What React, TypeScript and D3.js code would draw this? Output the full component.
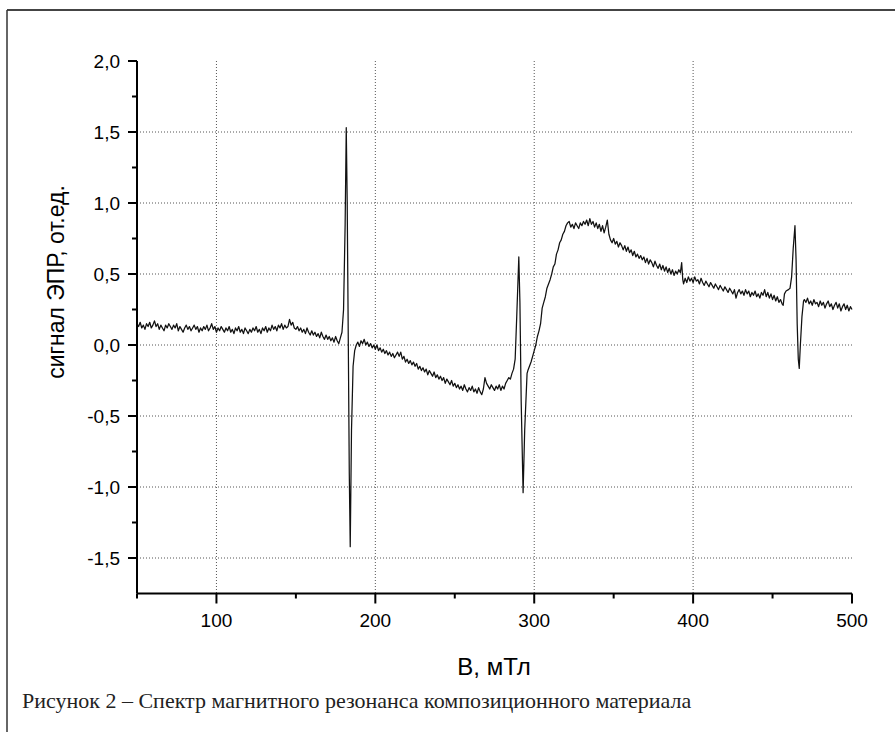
import React from "react";
import * as d3 from "d3";

type Pt = [number, number];

// B (mT), signal (a.u.), region by region
const lowFieldBaseline: Pt[] = [
  [50, 0.15], [51, 0.13], [52, 0.16], [53, 0.12], [54, 0.14], [55, 0.11], [56, 0.15], [57, 0.13], [58, 0.16], [59, 0.12],
  [60, 0.14], [61, 0.17], [62, 0.13], [63, 0.15], [64, 0.11], [65, 0.14], [66, 0.12], [67, 0.10], [68, 0.14], [69, 0.12],
  [70, 0.15], [71, 0.13], [72, 0.11], [73, 0.14], [74, 0.12], [75, 0.15], [76, 0.10], [77, 0.13], [78, 0.11], [79, 0.09],
  [80, 0.12], [81, 0.14], [82, 0.11], [83, 0.13], [84, 0.10], [85, 0.12], [86, 0.14], [87, 0.11], [88, 0.13], [89, 0.09],
  [90, 0.12], [91, 0.10], [92, 0.13], [93, 0.11], [94, 0.14], [95, 0.10], [96, 0.12], [97, 0.15], [98, 0.11], [99, 0.13],
  [100, 0.09], [101, 0.12], [102, 0.10], [103, 0.13], [104, 0.11], [105, 0.09], [106, 0.12], [107, 0.10], [108, 0.13], [109, 0.09],
  [110, 0.11], [111, 0.08], [112, 0.12], [113, 0.10], [114, 0.13], [115, 0.09], [116, 0.11], [117, 0.08], [118, 0.12], [119, 0.10],
  [120, 0.08], [121, 0.11], [122, 0.09], [123, 0.12], [124, 0.10], [125, 0.13], [126, 0.09], [127, 0.11], [128, 0.08], [129, 0.12],
  [130, 0.10], [131, 0.13], [132, 0.09], [133, 0.12], [134, 0.10], [135, 0.14], [136, 0.11], [137, 0.13], [138, 0.10], [139, 0.14],
  [140, 0.12], [141, 0.15], [142, 0.11], [143, 0.14], [144, 0.12], [145, 0.13], [146, 0.18], [147, 0.14], [148, 0.16], [149, 0.12],
  [150, 0.11], [151, 0.13], [152, 0.10], [153, 0.12], [154, 0.09], [155, 0.11], [156, 0.08], [157, 0.12], [158, 0.09], [159, 0.07],
  [160, 0.10], [161, 0.07], [162, 0.09], [163, 0.06], [164, 0.08], [165, 0.05], [166, 0.09], [167, 0.06], [168, 0.04], [169, 0.07],
  [170, 0.04], [171, 0.06], [172, 0.03], [173, 0.05], [174, 0.02], [175, 0.06], [176, 0.03], [177, 0.01], [178, 0.05],
];

const firstLine: Pt[] = [
  [179, 0.09], [180, 0.25], [181, 0.85], [181.7, 1.53], [182.3, 1.0], [183, 0.0], [183.6, -0.9], [184.2, -1.42],
  [185, -0.6], [186, -0.15], [187, -0.04], [188, 0.0],
];

const midFieldSlope: Pt[] = [
  [189, 0.02], [190, -0.01], [191, 0.03], [192, 0.01], [193, 0.04], [194, 0.0], [195, 0.02], [196, -0.01], [197, 0.01], [198, -0.02], [199, 0.0],
  [200, -0.03], [201, 0.0], [202, -0.04], [203, -0.02], [204, -0.05], [205, -0.03], [206, -0.06], [207, -0.04], [208, -0.07], [209, -0.05],
  [210, -0.08], [211, -0.06], [212, -0.09], [213, -0.07], [214, -0.05], [215, -0.08], [216, -0.05], [217, -0.10], [218, -0.08], [219, -0.12],
  [220, -0.10], [221, -0.13], [222, -0.11], [223, -0.14], [224, -0.12], [225, -0.15], [226, -0.13], [227, -0.17], [228, -0.15], [229, -0.18],
  [230, -0.16], [231, -0.19], [232, -0.17], [233, -0.21], [234, -0.18], [235, -0.20], [236, -0.22], [237, -0.19], [238, -0.23], [239, -0.21],
  [240, -0.24], [241, -0.22], [242, -0.25], [243, -0.23], [244, -0.27], [245, -0.24], [246, -0.26], [247, -0.28], [248, -0.25], [249, -0.29],
  [250, -0.27], [251, -0.30], [252, -0.28], [253, -0.31], [254, -0.29], [255, -0.32], [256, -0.28], [257, -0.31], [258, -0.33], [259, -0.30],
  [260, -0.32], [261, -0.29], [262, -0.33], [263, -0.31], [264, -0.34], [265, -0.30], [266, -0.33], [267, -0.35], [268, -0.31], [269, -0.23],
  [270, -0.27], [271, -0.29], [272, -0.31], [273, -0.28], [274, -0.30], [275, -0.32], [276, -0.29], [277, -0.31], [278, -0.28], [279, -0.32],
  [280, -0.29], [281, -0.31], [282, -0.27], [283, -0.25], [284, -0.23], [285, -0.24], [286, -0.20], [287, -0.17], [288, -0.10],
];

const secondLine: Pt[] = [
  [289, 0.2], [290.3, 0.62], [291, 0.3], [291.8, -0.4], [293, -1.04], [294, -0.6], [295.5, -0.2],
];

const broadLine: Pt[] = [
  [296, -0.18], [297, -0.15], [298, -0.12], [299, -0.08], [300, -0.04], [301, 0.0], [302, 0.06], [303, 0.10], [304, 0.15], [305, 0.26],
  [306, 0.30], [307, 0.34], [308, 0.40], [309, 0.43], [310, 0.46], [311, 0.50], [312, 0.55], [313, 0.57], [314, 0.64], [315, 0.67],
  [316, 0.72], [317, 0.74], [318, 0.78], [319, 0.80], [320, 0.84], [321, 0.86],
  [322, 0.87], [323, 0.83], [324, 0.85], [325, 0.82], [326, 0.86], [327, 0.84], [328, 0.82], [329, 0.86], [330, 0.84], [331, 0.87],
  [332, 0.85], [333, 0.88], [334, 0.84], [335, 0.89], [336, 0.85], [337, 0.87], [338, 0.83], [339, 0.86], [340, 0.82], [341, 0.85],
  [342, 0.80], [343, 0.84], [344, 0.79], [345, 0.83], [346, 0.88], [347, 0.78],
  [348, 0.74], [349, 0.72], [350, 0.75], [351, 0.71], [352, 0.73], [353, 0.69], [354, 0.72], [355, 0.70], [356, 0.67], [357, 0.70],
  [358, 0.66], [359, 0.69], [360, 0.65], [361, 0.67], [362, 0.63], [363, 0.66], [364, 0.62], [365, 0.64], [366, 0.61], [367, 0.63],
  [368, 0.60], [369, 0.62], [370, 0.58], [371, 0.61], [372, 0.57], [373, 0.60], [374, 0.58], [375, 0.55], [376, 0.59], [377, 0.56],
  [378, 0.54], [379, 0.57], [380, 0.53], [381, 0.56], [382, 0.52], [383, 0.55], [384, 0.51], [385, 0.54], [386, 0.50], [387, 0.53],
  [388, 0.49], [389, 0.52], [390, 0.50], [391, 0.53], [392, 0.51], [392.8, 0.58], [393.5, 0.46], [394, 0.43],
  [395, 0.47], [396, 0.44], [397, 0.48], [398, 0.45], [399, 0.47], [400, 0.44], [401, 0.48], [402, 0.45], [403, 0.46], [404, 0.43],
  [405, 0.47], [406, 0.44], [407, 0.42], [408, 0.45], [409, 0.43], [410, 0.41], [411, 0.44], [412, 0.42], [413, 0.40], [414, 0.43],
  [415, 0.41], [416, 0.39], [417, 0.42], [418, 0.40], [419, 0.38], [420, 0.41], [421, 0.39], [422, 0.37], [423, 0.40], [424, 0.38],
  [425, 0.36], [426, 0.39], [427, 0.33], [428, 0.37], [429, 0.39], [430, 0.36], [431, 0.38], [432, 0.35], [433, 0.39], [434, 0.36],
  [435, 0.38], [436, 0.34], [437, 0.37], [438, 0.35], [439, 0.38], [440, 0.34], [441, 0.36], [442, 0.33], [443, 0.37], [444, 0.35],
  [445, 0.39], [446, 0.34], [447, 0.37], [448, 0.33], [449, 0.36], [450, 0.32], [451, 0.35], [452, 0.31], [453, 0.34], [454, 0.30],
  [455, 0.32], [456, 0.29], [456.7, 0.28],
];

const thirdLine: Pt[] = [
  [457.5, 0.36], [458.5, 0.38], [460, 0.39], [461, 0.40], [462, 0.48], [463, 0.68], [464.1, 0.84], [464.8, 0.6],
  [465.5, 0.15], [466.2, -0.1], [466.8, -0.165], [467.5, 0.0], [468.5, 0.2], [469.5, 0.31],
];

const highFieldBaseline: Pt[] = [
  [470, 0.32], [471, 0.30], [472, 0.33], [473, 0.29], [474, 0.31], [475, 0.28], [476, 0.32], [477, 0.29], [478, 0.30], [479, 0.27],
  [480, 0.31], [481, 0.28], [482, 0.30], [483, 0.26], [484, 0.29], [485, 0.31], [486, 0.27], [487, 0.29], [488, 0.25], [489, 0.28],
  [490, 0.30], [491, 0.26], [492, 0.29], [493, 0.24], [494, 0.27], [495, 0.29], [496, 0.25], [497, 0.28], [498, 0.24], [499, 0.27],
  [500, 0.25],
];

const xMajorTicks: number[] = [100, 200, 300, 400, 500];
const xMinorTicks: number[] = [50, 150, 250, 350, 450];
const xGridTicks: number[] = [100, 200, 300, 400];
const yMajorTicks: number[] = [2.0, 1.5, 1.0, 0.5, 0.0, -0.5, -1.0, -1.5];
const yMinorTicks: number[] = [1.75, 1.25, 0.75, 0.25, -0.25, -0.75, -1.25];
const yGridTicks: number[] = [1.5, 1.0, 0.5, 0.0, -0.5, -1.0, -1.5];

const xTitle = "B, мТл";
const yTitle = "сигнал ЭПР, от.ед.";
const caption = "Рисунок 2 – Спектр магнитного резонанса композиционного материала";

export default function App() {
  const W = 895;
  const H = 732;
  const x = d3.scaleLinear().domain([50, 500]).range([137, 852]);
  const y = d3.scaleLinear().domain([-1.75, 2.0]).range([593.5, 61]);
  const pts: Pt[] = [
    ...lowFieldBaseline,
    ...firstLine,
    ...midFieldSlope,
    ...secondLine,
    ...broadLine,
    ...thirdLine,
    ...highFieldBaseline,
  ];
  const line = d3
    .line<Pt>()
    .x((d) => x(d[0]))
    .y((d) => y(d[1]));
  const fmtY = (v: number) => d3.format(".1f")(v).replace(".", ",").replace("−", "-");
  const sans = "'Liberation Sans', Arial, sans-serif";
  const x0 = x(50);
  const yBottom = y(-1.75);

  return (
    <svg
      width={W}
      height={H}
      style={{ position: "absolute", left: 0, top: 0, background: "#fff" }}
    >
      <rect x={0} y={0} width={W} height={H} fill="#fff" />
      {/* frame */}
      <line x1={7} y1={10} x2={W} y2={10} stroke="#444" strokeWidth={2} />
      <line x1={7} y1={10} x2={7} y2={H} stroke="#333" strokeWidth={1.5} />

      {/* grid */}
      {yGridTicks.map((v) => (
        <line
          key={"gy" + v}
          x1={x0}
          x2={x(500)}
          y1={y(v)}
          y2={y(v)}
          stroke="#555"
          strokeWidth={1}
          strokeDasharray="1,2"
        />
      ))}
      {xGridTicks.map((v) => (
        <line
          key={"gx" + v}
          x1={x(v)}
          x2={x(v)}
          y1={y(2.0)}
          y2={yBottom}
          stroke="#555"
          strokeWidth={1}
          strokeDasharray="1,2"
        />
      ))}

      {/* data */}
      <path d={line(pts) || ""} fill="none" stroke="#111" strokeWidth={1.25} strokeLinejoin="round" />

      {/* axes */}
      <line x1={x0} x2={x(500)} y1={yBottom} y2={yBottom} stroke="#000" strokeWidth={2} />
      <line x1={x0} x2={x0} y1={y(2.0)} y2={yBottom} stroke="#000" strokeWidth={2} />

      {xMajorTicks.map((v) => (
        <g key={"xt" + v}>
          <line x1={x(v)} x2={x(v)} y1={yBottom} y2={yBottom + 10} stroke="#000" strokeWidth={2} />
          <text
            x={x(v)}
            y={627}
            textAnchor="middle"
            fontFamily={sans}
            fontSize={19}
            fill="#000"
          >
            {String(v)}
          </text>
        </g>
      ))}
      {xMinorTicks.map((v) => (
        <line key={"xm" + v} x1={x(v)} x2={x(v)} y1={yBottom} y2={yBottom + 5} stroke="#000" strokeWidth={2} />
      ))}

      {yMajorTicks.map((v) => (
        <g key={"yt" + v}>
          <line x1={x0 - 9} x2={x0} y1={y(v)} y2={y(v)} stroke="#000" strokeWidth={2} />
          <text
            x={120}
            y={y(v)}
            dy="0.35em"
            textAnchor="end"
            fontFamily={sans}
            fontSize={19}
            fill="#000"
          >
            {fmtY(v)}
          </text>
        </g>
      ))}
      {yMinorTicks.map((v) => (
        <line key={"ym" + v} x1={x0 - 5} x2={x0} y1={y(v)} y2={y(v)} stroke="#000" strokeWidth={2} />
      ))}

      {/* titles */}
      <text x={494} y={675} textAnchor="middle" fontFamily={sans} fontSize={24} fill="#000">
        {xTitle}
      </text>
      <text
        transform={`translate(64, 282) rotate(-90)`}
        textAnchor="middle"
        fontFamily={sans}
        fontSize={23}
        fill="#000"
      >
        {yTitle}
      </text>

      <text
        x={22}
        y={708}
        fontFamily="'Liberation Serif', 'Times New Roman', serif"
        fontSize={22}
        fill="#222"
      >
        {caption}
      </text>
    </svg>
  );
}
